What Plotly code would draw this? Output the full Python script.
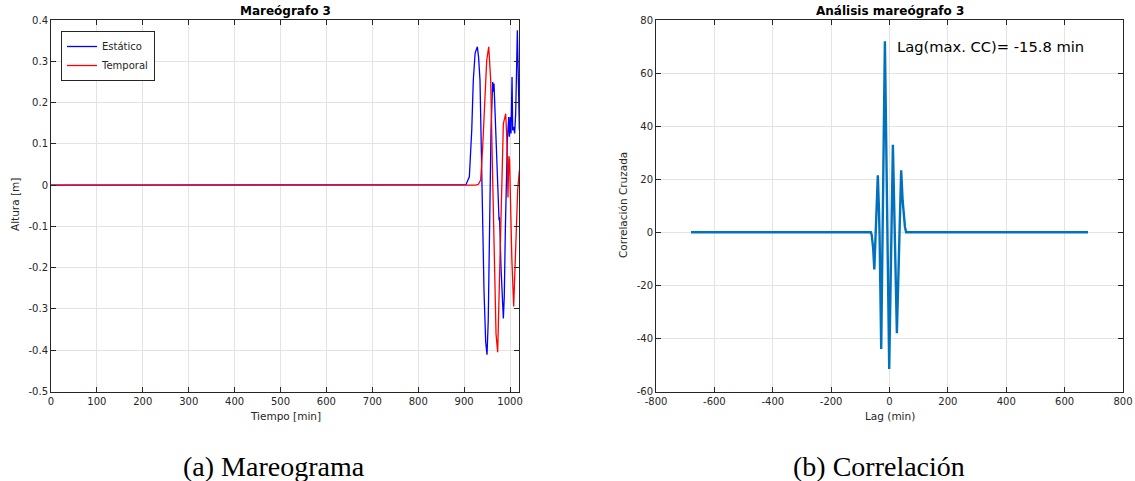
import plotly.graph_objects as go

# ---------------- data: left panel (mareograma) ----------------
t_estatico = [0, 900, 904, 911.4, 916.6, 920, 924, 928.8, 931.5, 934.6, 938.3, 943.3, 947, 949.9,
              952.5, 955, 958.6, 962.2, 963.7, 965.1, 969.5, 973.9, 975.4, 976.1, 977.2, 980.4,
              985.5, 987.5, 989.8, 994.2, 997.1, 998.6, 1000.7, 1002.2, 1004.4, 1005.8, 1008,
              1010.1, 1012.3, 1014.5, 1016, 1018.2, 1020.4]
y_estatico = [0, 0, 0.001, 0.02, 0.133, 0.254, 0.32, 0.335, 0.31, 0.254, 0.0, -0.254, -0.38, -0.411,
              -0.33, -0.109, 0.133, 0.25, 0.226, 0.246, 0.093, -0.052, -0.064, -0.085, -0.077, -0.2,
              -0.323, -0.27, -0.109, 0.109, 0.165, 0.117, 0.165, 0.125, 0.262, 0.133, 0.141,
              0.125, 0.173, 0.33, 0.375, 0.254, 0.133]

t_temporal = [0, 925, 931, 936.1, 940.5, 944.9, 949.2, 953.6, 957.9, 961.5, 965.9, 969.5, 973.1,
              976.8, 981.1, 985.5, 990.6, 993.5, 995.5, 997.5, 999, 1001, 1004, 1008, 1013.1,
              1016.7, 1020.4]
y_temporal = [0, 0, 0.002, 0.012, 0.093, 0.214, 0.302, 0.335, 0.254, 0.052, -0.2, -0.36, -0.405,
              -0.232, 0.012, 0.149, 0.173, 0.1, -0.03, 0.07, 0.06, -0.05, -0.18, -0.294, -0.149,
              -0.012, 0.036]

# ---------------- data: right panel (correlación) ----------------
lag = [-680, -64, -61, -56, -52, -46, -40, -36, -34, -28.4, -15.8, -1, 9, 11.6, 25.3, 40,
       45, 50, 53, 57, 680]
cc = [0, 0, -1, -6, -14, 3, 21.5, 8, -1, -44, 72, -51.5, 23, 33, -38, 23.4, 12, 4, 2, 0, 0]

# ---------------- tick labels ----------------
x1_ticks = [0, 100, 200, 300, 400, 500, 600, 700, 800, 900, 1000]
x1_text = ["0", "100", "200", "300", "400", "500", "600", "700", "800", "900", "1000"]
y1_ticks = [-0.5, -0.4, -0.3, -0.2, -0.1, 0, 0.1, 0.2, 0.3, 0.4]
y1_text = ["-0.5", "-0.4", "-0.3", "-0.2", "-0.1", "0", "0.1", "0.2", "0.3", "0.4"]
x2_ticks = [-800, -600, -400, -200, 0, 200, 400, 600, 800]
x2_text = ["-800", "-600", "-400", "-200", "0", "200", "400", "600", "800"]
y2_ticks = [-60, -40, -20, 0, 20, 40, 60, 80]
y2_text = ["-60", "-40", "-20", "0", "20", "40", "60", "80"]

W, H = 1135, 481
def px(x):
    return x / W
def py(y):
    return 1 - y / H

FONT = "DejaVu Sans"
AX = "#262626"
GRID = "#e3e3e3"

fig = go.Figure()
fig.add_trace(go.Scatter(x=t_estatico, y=y_estatico, mode="lines", name="Estático",
                         line=dict(color="#0000ff", width=1.3), xaxis="x", yaxis="y"))
fig.add_trace(go.Scatter(x=t_temporal, y=y_temporal, mode="lines", name="Temporal",
                         line=dict(color="#ff0000", width=1.3), xaxis="x", yaxis="y"))
fig.add_trace(go.Scatter(x=lag, y=cc, mode="lines", name="cc", showlegend=False,
                         line=dict(color="#0072bd", width=2.4), xaxis="x2", yaxis="y2"))

ax_common = dict(showline=True, linecolor=AX, linewidth=1, mirror="ticks", ticks="inside",
                 ticklen=5, tickcolor=AX, tickwidth=1, showgrid=True, gridcolor=GRID,
                 gridwidth=1, zeroline=False, tickfont=dict(family=FONT, size=10, color=AX),
                 tickmode="array", automargin=False)

ydom = [py(391.5), py(20)]
fig.update_layout(
    width=W, height=H, margin=dict(l=0, r=0, t=0, b=0, autoexpand=False),
    paper_bgcolor="white", plot_bgcolor="white",
    font=dict(family=FONT, color=AX),
    xaxis=dict(domain=[px(51), px(519.2)], range=[0, 1020], anchor="y",
               tickvals=x1_ticks, ticktext=x1_text, **ax_common),
    yaxis=dict(domain=ydom, range=[-0.5, 0.4], anchor="x",
               tickvals=y1_ticks, ticktext=y1_text, **ax_common),
    xaxis2=dict(domain=[px(656), px(1123)], range=[-800, 800], anchor="y2",
                tickvals=x2_ticks, ticktext=x2_text, **ax_common),
    yaxis2=dict(domain=ydom, range=[-60, 80], anchor="x2",
                tickvals=y2_ticks, ticktext=y2_text, **ax_common),
    legend=dict(x=px(61), y=py(31), xanchor="left", yanchor="top",
                bgcolor="white", bordercolor=AX, borderwidth=1,
                font=dict(family=FONT, size=10, color=AX), tracegroupgap=0,
                itemwidth=30),
    showlegend=True,
)

ann = []
def note(text, x, y, size=10, angle=0, family=FONT, color=AX):
    ann.append(dict(text=text, x=x, y=y, xref="paper", yref="paper", showarrow=False,
                    xanchor="center", yanchor="middle", textangle=angle,
                    font=dict(family=family, size=size, color=color)))

note("<b>Mareógrafo 3</b>", px(285), py(11), size=12, color="black")
note("<b>Análisis mareógrafo 3</b>", px(889.5), py(11), size=12, color="black")
note("Tiempo [min]", px(285), py(416), size=10.5)
note("Lag (min)", px(889.5), py(416), size=10.5)
note("Altura [m]", px(15), py(205), size=10.5, angle=-90)
note("Correlación Cruzada", px(623), py(205), size=10.5, angle=-90)
note("(a) Mareograma", px(274), py(466), size=28, family="Liberation Serif", color="black")
note("(b) Correlación", px(879), py(466), size=28, family="Liberation Serif", color="black")

ann.append(dict(text="Lag(max. CC)= -15.8 min", x=19.5, y=70.2, xref="x2", yref="y2",
                showarrow=False, xanchor="left", yanchor="middle",
                font=dict(family=FONT, size=14.7, color="black")))
fig.update_layout(annotations=ann)

fig.write_html("out.html", config={"displayModeBar": False, "staticPlot": True},
               post_script="document.body.style.margin='0';document.body.style.padding='0';")
